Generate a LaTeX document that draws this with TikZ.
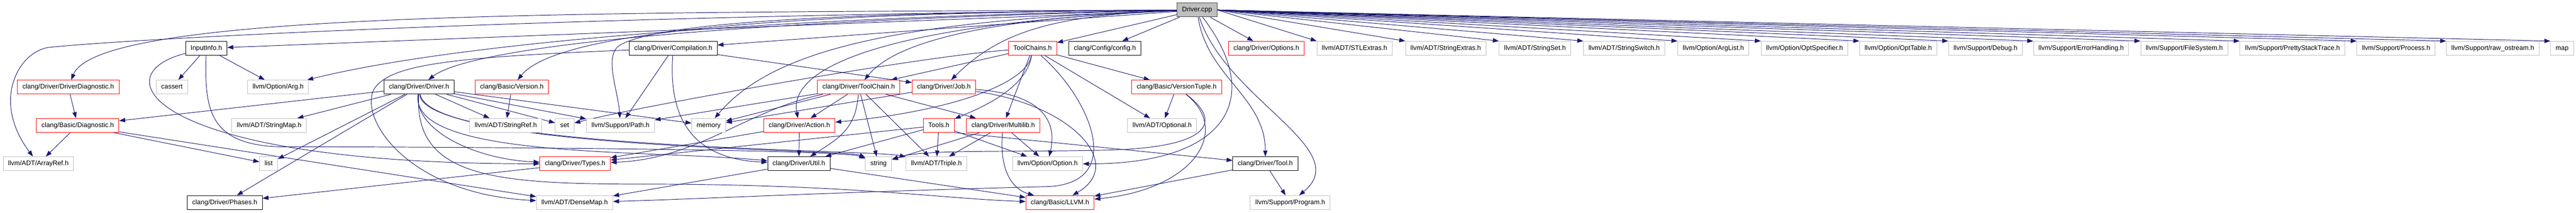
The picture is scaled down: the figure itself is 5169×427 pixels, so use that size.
\documentclass[tikz,border=0pt]{standalone}
\usepackage{fontspec}
\setmainfont{Liberation Sans}
\usepackage{xcolor}
\usepackage{tikz}
\usetikzlibrary{arrows.meta, backgrounds}
\definecolor{edgeblue}{HTML}{191970}
\definecolor{sysgray}{HTML}{BFBFBF}
\definecolor{rootfill}{HTML}{BFBFBF}
\definecolor{rootline}{HTML}{404040}
\tikzstyle{arrow} = [draw=edgeblue, line width=0.75pt, -{Triangle[length=9pt,width=6.5pt]}]
\tikzstyle{filebox} = [rectangle, draw, fill=white, line width=0.8pt, minimum height=21pt, inner xsep=7.5pt, inner ysep=0pt, text height=7.3pt, text depth=2.1pt, font=\fontsize{10pt}{12pt}\selectfont]
\tikzstyle{rootbox} = [filebox, draw=rootline, fill=rootfill]
\tikzstyle{blackbox} = [filebox, draw=black]
\tikzstyle{redbox} = [filebox, draw=red]
\tikzstyle{graybox} = [filebox, draw=sysgray]

\begin{document}
\begin{tikzpicture}[x=0.75pt, y=-0.75pt]
\useasboundingbox (0,0) rectangle (5169,427);
%----------------------------------------------------------------------------
% Placement of include nodes
\node (cpp) [rootbox] at (2402,20) {Driver.cpp};

% first level
\node (inputinfo) [blackbox] at (414,97) {InputInfo.h};
\node (compilation) [blackbox] at (1351,97) {clang/Driver/Compilation.h};
\node (toolchains) [redbox] at (2072,97) {ToolChains.h};
\node (config) [blackbox] at (2217,97) {clang/Config/config.h};
\node (options) [redbox] at (2541,97) {clang/Driver/Options.h};
\node (stlextras) [graybox] at (2718,97) {llvm/ADT/STLExtras.h};
\node (stringextras) [graybox] at (2901,97) {llvm/ADT/StringExtras.h};
\node (stringset) [graybox] at (3080,97) {llvm/ADT/StringSet.h};
\node (stringswitch) [graybox] at (3259,97) {llvm/ADT/StringSwitch.h};
\node (arglist) [graybox] at (3438,97) {llvm/Option/ArgList.h};
\node (optspec) [graybox] at (3621,97) {llvm/Option/OptSpecifier.h};
\node (opttable) [graybox] at (3809,97) {llvm/Option/OptTable.h};
\node (debug) [graybox] at (3984,97) {llvm/Support/Debug.h};
\node (errhandling) [graybox] at (4176,97) {llvm/Support/ErrorHandling.h};
\node (filesystem) [graybox] at (4383,97) {llvm/Support/FileSystem.h};
\node (prettystack) [graybox] at (4600,97) {llvm/Support/PrettyStackTrace.h};
\node (process) [graybox] at (4808,97) {llvm/Support/Process.h};
\node (rawostream) [graybox] at (5002,97) {llvm/Support/raw\_ostream.h};
\node (stdmap) [graybox] at (5141,97) {map};

% second level
\node (drvdiag) [redbox] at (137,175) {clang/Driver/DriverDiagnostic.h};
\node (stdcassert) [graybox] at (345,175) {cassert};
\node (arg) [graybox] at (558,175) {llvm/Option/Arg.h};
\node (driverh) [blackbox] at (841,175) {clang/Driver/Driver.h};
\node (version) [redbox] at (1027,175) {clang/Basic/Version.h};
\node (toolchain) [redbox] at (1723,175) {clang/Driver/ToolChain.h};
\node (job) [redbox] at (1894,175) {clang/Driver/Job.h};
\node (versiontuple) [redbox] at (2361,175) {clang/Basic/VersionTuple.h};

% third level
\node (diag) [redbox] at (156,252) {clang/Basic/Diagnostic.h};
\node (stringmap) [graybox] at (540,252) {llvm/ADT/StringMap.h};
\node (stringref) [graybox] at (1015,252) {llvm/ADT/StringRef.h};
\node (stdset) [graybox] at (1133,252) {set};
\node (supportpath) [graybox] at (1245,252) {llvm/Support/Path.h};
\node (stdmemory) [graybox] at (1422,252) {memory};
\node (action) [redbox] at (1604,252) {clang/Driver/Action.h};
\node (tools) [redbox] at (1884,252) {Tools.h};
\node (multilib) [redbox] at (2013,252) {clang/Driver/Multilib.h};
\node (optional) [graybox] at (2332,252) {llvm/ADT/Optional.h};

% fourth level
\node (arrayref) [graybox] at (77,329) {llvm/ADT/ArrayRef.h};
\node (stdlist) [graybox] at (539,329) {list};
\node (types) [redbox] at (1154,329) {clang/Driver/Types.h};
\node (util) [blackbox] at (1603,329) {clang/Driver/Util.h};
\node (stdstring) [graybox] at (1763,329) {string};
\node (triple) [graybox] at (1879,329) {llvm/ADT/Triple.h};
\node (option) [graybox] at (2102,329) {llvm/Option/Option.h};
\node (tool) [blackbox] at (2539,329) {clang/Driver/Tool.h};

% fifth level
\node (phases) [blackbox] at (451,407) {clang/Driver/Phases.h};
\node (densemap) [graybox] at (1153,407) {llvm/ADT/DenseMap.h};
\node (llvmh) [redbox] at (2127,407) {clang/Basic/LLVM.h};
\node (program) [graybox] at (2589,407) {llvm/Support/Program.h};

\begin{pgfonlayer}{background}
%----------------------------------------------------------------------------
% Draw lines from Driver.cpp
\draw [arrow] (cpp) -- (inputinfo);
\draw [arrow] (cpp) -- (compilation);
\draw [arrow] (cpp) -- (toolchains);
\draw [arrow] (cpp) -- (config);
\draw [arrow] (cpp) -- (options);
\draw [arrow] (cpp.east) -- (stlextras.north west);
\draw [arrow] (cpp.east) -- (stringextras.north west);
\draw [arrow] (cpp.east) -- (stringset.north west);
\draw [arrow] (cpp.east) -- (stringswitch.north west);
\draw [arrow] (cpp.east) -- (arglist.north west);
\draw [arrow] (cpp.east) -- (optspec.north west);
\draw [arrow] (cpp.east) -- (opttable.north west);
\draw [arrow] (cpp.east) -- (debug.north west);
\draw [arrow] (cpp.east) -- (errhandling.north west);
\draw [arrow] (cpp.east) -- (filesystem.north west);
\draw [arrow] (cpp.east) -- (prettystack.north west);
\draw [arrow] (cpp.east) -- (process.north west);
\draw [arrow] (cpp.east) -- (rawostream.north west);
\draw [arrow] (cpp.east) -- (stdmap.north west);

\draw [arrow] (cpp) .. controls (1200,25) and (200,20) .. (drvdiag);
\draw [arrow] (cpp) .. controls (1200,30) and (300,75) .. (100,95) .. controls (40,101) and (-20,200) .. (arrayref);
\draw [arrow] (cpp) .. controls (1500,35) and (900,90) .. (arg);
\draw [arrow] (cpp) .. controls (1500,40) and (950,90) .. (driverh);
\draw [arrow] (cpp) .. controls (1600,25) and (1120,60) .. (version);
\draw [arrow] (cpp) .. controls (1600,25) and (1320,50) .. (1245,90) .. controls (1210,110) and (1240,180) .. (supportpath);
\draw [arrow] (cpp) .. controls (1800,40) and (1550,100) .. (stdmemory);
\draw [arrow] (cpp) .. controls (1800,45) and (1580,130) .. (action);
\draw [arrow] (cpp) .. controls (2000,35) and (1800,80) .. (toolchain);
\draw [arrow] (cpp) .. controls (2100,30) and (2000,70) .. (job);
\draw [arrow] (cpp) .. controls (2540,200) and (2460,330) .. (option);
\draw [arrow] (cpp) .. controls (2422,154) and (2539,195) .. (tool);
\draw [arrow] (cpp) .. controls (2460,200) and (2720,300) .. (program);

%----------------------------------------------------------------------------
% InputInfo.h, DriverDiagnostic.h, Diagnostic.h
\draw [arrow] (inputinfo) -- (stdcassert);
\draw [arrow] (inputinfo) -- (arg);
\draw [arrow] (inputinfo) .. controls (200,150) and (300,330) .. (types);
\draw [arrow] (inputinfo) .. controls (410,220) and (420,290) .. (560,295) .. controls (900,295) and (1690,300) .. (stdstring);
\draw [arrow] (drvdiag) -- (diag);
\draw [arrow] (diag) -- (arrayref);
\draw [arrow] (diag) -- (stdlist);
\draw [arrow] (diag) -- (densemap);

% Driver.h
\draw [arrow] (driverh) -- (diag);
\draw [arrow] (driverh) -- (stringmap);
\draw [arrow] (driverh) -- (stdlist);
\draw [arrow] (driverh) -- (phases);
\draw [arrow] (driverh) -- (stringref);
\draw [arrow] (driverh) -- (stdset);
\draw [arrow] (driverh) -- (supportpath);
\draw [arrow] (driverh) -- (stdmemory);
\draw [arrow] (driverh) .. controls (830,260) and (950,320) .. (types);
\draw [arrow] (driverh) .. controls (820,320) and (1300,300) .. (util);
\draw [arrow] (driverh) .. controls (860,300) and (1700,300) .. (stdstring);
\draw [arrow] (driverh) .. controls (850,300) and (1750,300) .. (triple);
\draw [arrow] (driverh) .. controls (830,360) and (1000,370) .. (1300,370) .. controls (1700,370) and (1900,400) .. (llvmh);
\draw [arrow] (version) -- (stringref);

% Compilation.h
\draw [arrow] (compilation) -- (supportpath);
\draw [arrow] (compilation) -- (job);
\draw [arrow] (compilation) .. controls (1340,250) and (1400,320) .. (util);
\draw [arrow] (compilation) .. controls (900,115) and (780,130) .. (750,180) .. controls (720,240) and (820,390) .. (densemap);

% ToolChain.h, Action.h, Job.h
\draw [arrow] (toolchain) -- (supportpath);
\draw [arrow] (toolchain) -- (stdmemory);
\draw [arrow] (toolchain) -- (action);
\draw [arrow] (toolchain) -- (stdstring);
\draw [arrow] (toolchain) -- (triple);
\draw [arrow] (toolchain) -- (multilib);
\draw [arrow] (toolchain) .. controls (1500,220) and (1400,320) .. (types);
\draw [arrow] (toolchain) .. controls (1718,260) and (1680,280) .. (util);
\draw [arrow] (action) -- (types);
\draw [arrow] (action) -- (util);
\draw [arrow] (job) -- (stdmemory);
\draw [arrow] (job) .. controls (2100,190) and (2120,250) .. (option);
\draw [arrow] (job) .. controls (2150,210) and (2260,330) .. (llvmh);

% ToolChains.h
\draw [arrow] (toolchains) -- (multilib);
\draw [arrow] (toolchains) -- (versiontuple);
\draw [arrow] (toolchains) -- (optional);
\draw [arrow] (toolchains) -- (toolchain);
\draw [arrow] (toolchains) .. controls (2060,180) and (1960,220) .. (tools);
\draw [arrow] (toolchains) .. controls (2060,170) and (1900,225) .. (action);
\draw [arrow] (toolchains) .. controls (1850,113) and (1300,210) .. (stdset);
\draw [arrow] (toolchains) .. controls (2190,200) and (2260,370) .. (2100,375) .. controls (1700,385) and (1400,400) .. (densemap);

% Tools.h, Multilib.h, VersionTuple.h
\draw [arrow] (tools) -- (triple);
\draw [arrow] (tools) -- (option);
\draw [arrow] (tools) -- (types);
\draw [arrow] (tools) -- (util);
\draw [arrow] (tools.south east) -- (tool);
\draw [arrow] (multilib) -- (triple);
\draw [arrow] (multilib) -- (option);
\draw [arrow] (multilib) -- (stdstring);
\draw [arrow] (multilib) .. controls (2005,340) and (2030,380) .. (llvmh);
\draw [arrow] (versiontuple) -- (optional);
\draw [arrow] (versiontuple) .. controls (2470,260) and (2400,380) .. (llvmh);
\draw [arrow] (versiontuple) .. controls (2460,250) and (2420,300) .. (2200,302) .. controls (2000,306) and (1850,300) .. (stdstring);

% Tool.h, Types.h, Util.h
\draw [arrow] (tool) -- (program);
\draw [arrow] (tool) -- (llvmh);
\draw [arrow] (types) -- (phases);
\draw [arrow] (util) -- (densemap);
\draw [arrow] (util) -- (llvmh);
\end{pgfonlayer}

\end{tikzpicture}
\end{document}
